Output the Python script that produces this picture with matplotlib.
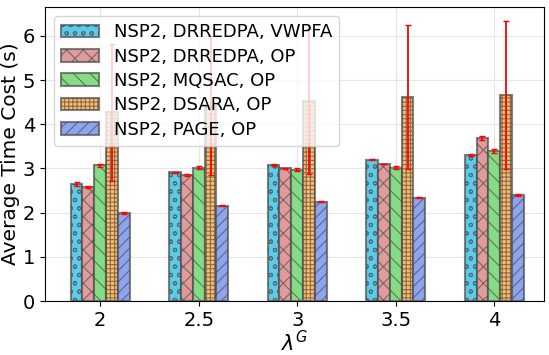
import numpy as np
import matplotlib.pyplot as plt

# --- Data ---
lam = ["2", "2.5", "3", "3.5", "4"]
labels = ["NSP2, DRREDPA, VWPFA", "NSP2, DRREDPA, OP", "NSP2, MQSAC, OP",
          "NSP2, DSARA, OP", "NSP2, PAGE, OP"]

vwpfa = [2.65, 2.91, 3.08, 3.20, 3.30]
drredpa = [2.58, 2.86, 3.00, 3.10, 3.69]
mqsac = [3.07, 3.02, 2.97, 3.02, 3.39]
dsara = [4.27, 4.42, 4.52, 4.61, 4.66]
page = [1.99, 2.16, 2.25, 2.34, 2.40]

vwpfa_err = [0.05, 0.02, 0.02, 0.02, 0.02]
drredpa_err = [0.02, 0.02, 0.01, 0.01, 0.05]
mqsac_err = [0.04, 0.04, 0.03, 0.04, 0.05]
dsara_err = [1.55, 1.57, 1.64, 1.63, 1.68]
page_err = [0.02, 0.02, 0.02, 0.01, 0.02]

colors = ["#5ccbea", "#e09c9c", "#84dc84", "#ffbb66", "#8da4ef"]
hatches = ["oo", "xx", "\\\\", "++++", "///"]

# --- Plot ---
plt.figure(figsize=(5.49, 3.55), dpi=100)
x = np.arange(len(lam))
w = 0.12
series = [vwpfa, drredpa, mqsac, dsara, page]
errs = [vwpfa_err, drredpa_err, mqsac_err, dsara_err, page_err]
plt.rcParams['hatch.color'] = '#555555'
plt.rcParams['hatch.linewidth'] = 0.8
for i in range(5):
    plt.bar(x + (i - 2) * w, series[i], w, yerr=errs[i], color=colors[i],
            hatch=hatches[i], edgecolor=(0.3, 0.3, 0.3, 0.7), linewidth=1.5,
            label=labels[i], capsize=2.5,
            error_kw=dict(ecolor="red", elinewidth=1.3, capthick=1.0),
            zorder=3)
plt.xticks(x, lam, fontsize=14)
plt.yticks(range(7), fontsize=14)
plt.xlim(-0.56, 4.5)
plt.ylim(0, 6.65)
plt.xlabel(r"$\lambda^G$", fontsize=15, labelpad=0)
plt.ylabel("Average Time Cost (s)", fontsize=14.5, labelpad=2)
plt.grid(True, color="#e6e6e6", zorder=0)
plt.legend(loc="upper left", fontsize=13, framealpha=0.8,
           handlelength=2.1, handletextpad=0.8, labelspacing=0.35,
           borderpad=0.4, borderaxespad=0.5)
plt.subplots_adjust(left=0.082, right=0.99, top=0.98, bottom=0.152)
plt.savefig("out.png")
